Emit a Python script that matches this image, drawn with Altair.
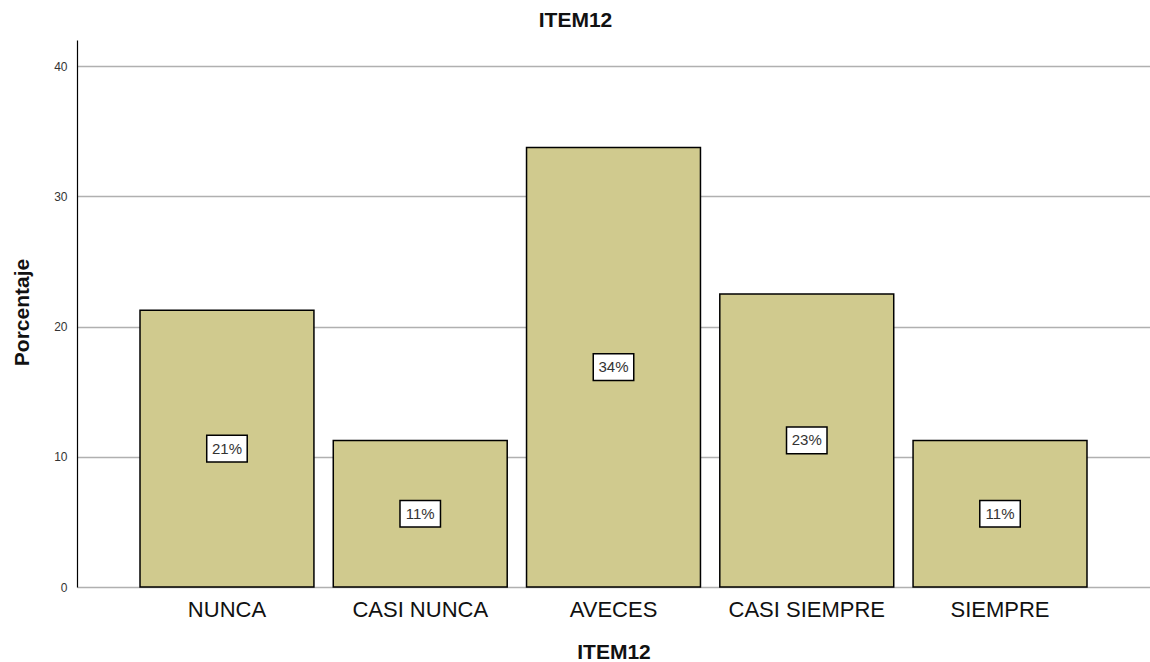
import altair as alt
import pandas as pd

categories = ["NUNCA", "CASI NUNCA", "AVECES", "CASI SIEMPRE", "SIEMPRE"]
percentages = [21.25, 11.25, 33.75, 22.5, 11.25]
labels = ["21%", "11%", "34%", "23%", "11%"]
y_ticks = [0, 10, 20, 30, 40]

df = pd.DataFrame({"cat": categories, "pct": percentages, "lab": labels})
df["mid"] = df["pct"] / 2

FONT = "Liberation Sans"

x = alt.X(
    "cat:N",
    sort=categories,
    scale=alt.Scale(paddingInner=0.1, paddingOuter=0.326),
    axis=alt.Axis(
        title="ITEM12",
        labelAngle=0,
        labelFont=FONT,
        labelFontSize=22,
        labelColor="#111111",
        labelBaseline="alphabetic",
        labelPadding=29,
        ticks=False,
        tickSize=0,
        domain=False,
        grid=False,
        titleFont=FONT,
        titleFontSize=21,
        titleFontWeight="bold",
        titleColor="#111111",
        titleBaseline="alphabetic",
        titleY=71,
    ),
)

bars = alt.Chart(df).mark_bar(
    fill="#D0CA8E", stroke="#000000", strokeWidth=1.5
).encode(
    x=x,
    y=alt.Y(
        "pct:Q",
        scale=alt.Scale(domain=[0, 42], nice=False),
        axis=alt.Axis(
            title="Porcentaje",
            values=y_ticks,
            labelFont=FONT,
            labelFontSize=12,
            labelColor="#333333",
            labelPadding=10,
            ticks=False,
            tickSize=0,
            domainColor="#000000",
            domainWidth=1.2,
            gridColor="#B0B0B0",
            gridWidth=1.5,
            titleFont=FONT,
            titleFontSize=21,
            titleFontWeight="bold",
            titleColor="#111111",
            titleAngle=270,
            titleAlign="center",
            titleBaseline="middle",
            titleX=-55,
            titleY=272,
        ),
    ),
)

box_shape = "M-1,-0.66L1,-0.66L1,0.66L-1,0.66Z"
boxes = alt.Chart(df).mark_point(
    shape=box_shape, size=1640, filled=True, fill="#FFFFFF", stroke="#000000",
    strokeWidth=1.5, opacity=1,
).encode(
    x=alt.X("cat:N", sort=categories),
    y=alt.Y("mid:Q"),
)

texts = alt.Chart(df).mark_text(
    font=FONT, fontSize=15, color="#333333", baseline="middle", align="center"
).encode(
    x=alt.X("cat:N", sort=categories),
    y=alt.Y("mid:Q"),
    text="lab:N",
)

chart = alt.layer(bars, boxes, texts).properties(
    width=1073,
    height=547,
    background="#FFFFFF",
    title=alt.TitleParams(
        "ITEM12", font=FONT, fontSize=21, fontWeight="bold", color="#111111",
        offset=9, dx=-38, anchor="middle",
    ),
    autosize=alt.AutoSizeParams(type="none"),
    padding={"left": 77, "top": 40, "right": 0, "bottom": 75},
).configure_view(stroke=None)

chart.save("out.html", embed_options={"renderer": "svg", "actions": False})
